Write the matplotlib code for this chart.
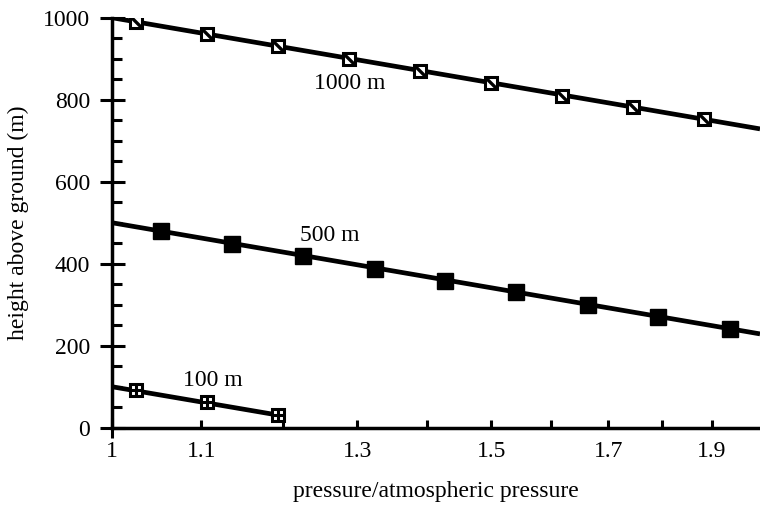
import numpy as np
import matplotlib
matplotlib.use('Agg')
import matplotlib.pyplot as plt
from matplotlib.path import Path
from matplotlib.ticker import FixedLocator, FixedFormatter

# measured points (pressure ratio, height in m)
p_1000 = [1.026, 1.107, 1.194, 1.288, 1.390, 1.500, 1.618, 1.746, 1.884]
h_1000 = [989, 960, 931, 900, 870, 840, 810, 782, 752]
p_500 = [1.054, 1.137, 1.227, 1.324, 1.428, 1.541, 1.663, 1.794, 1.936]
h_500 = [479, 449, 419, 388, 358, 330, 300, 270, 240]
p_100 = [1.026, 1.107, 1.194]
h_100 = [92, 63, 31]

# fitted lines (straight on the log axis)
fit_p = [1.0, 2.0]
fit_1000 = [1000, 729]
fit_500 = [500, 229]
fit_p100 = [1.0, 1.194]
fit_100 = [100, 31]

xticks = [1.1, 1.2, 1.3, 1.4, 1.5, 1.6, 1.7, 1.8, 1.9]
xticklabels = ['1.1', '', '1.3', '', '1.5', '', '1.7', '', '1.9']

plt.rcParams['font.family'] = ['Liberation Serif', 'DejaVu Serif']
fs = 17

fig = plt.figure(figsize=(7.6, 5.05), dpi=100)
ax = fig.add_axes([0.1478, 0.1529, 0.8522, 0.8119])

lw = 3.4
ax.plot(fit_p, fit_1000, color='black', lw=lw, solid_capstyle='butt', zorder=2)
ax.plot(fit_p, fit_500, color='black', lw=lw, solid_capstyle='butt', zorder=2)
ax.plot(fit_p100, fit_100, color='black', lw=lw, solid_capstyle='butt', zorder=2)

diag = Path([(-1, 1), (1, -1)], [Path.MOVETO, Path.LINETO])
ax.plot(p_1000, h_1000, ls='none', marker='s', ms=8, mfc='white', mec='black', mew=2.2, zorder=3)
ax.plot(p_1000, h_1000, ls='none', marker=diag, ms=8, mec='black', mew=2.4, zorder=4)
ax.plot(p_500, h_500, ls='none', marker='s', ms=11, mfc='black', mec='black', mew=1, zorder=3)
ax.plot(p_100, h_100, ls='none', marker='s', ms=8, mfc='white', mec='black', mew=2.2, zorder=3)
ax.plot(p_100, h_100, ls='none', marker='+', ms=8, mec='black', mew=2.2, zorder=4)

ax.text(1.289, 840, '1000 m', fontsize=fs, ha='center', va='center')
ax.text(1.262, 469, '500 m', fontsize=fs, ha='center', va='center')
ax.text(1.113, 116, '100 m', fontsize=fs, ha='center', va='center')

ax.set_xscale('log')
ax.set_xlim(1, 2)
ax.set_ylim(0, 1000)

ax.xaxis.set_major_locator(FixedLocator([1.0]))
ax.xaxis.set_major_formatter(FixedFormatter(['1']))
ax.xaxis.set_minor_locator(FixedLocator(xticks))
ax.xaxis.set_minor_formatter(FixedFormatter(xticklabels))
ax.set_yticks(np.arange(0, 1001, 200))
ax.set_yticks(np.arange(0, 1001, 50), minor=True)

ax.tick_params(axis='x', which='major', direction='inout', length=14, width=2.2, pad=2.5, labelsize=fs)
ax.tick_params(axis='x', which='minor', direction='in', length=6, width=2.2, pad=9.5, labelsize=fs)
ax.tick_params(axis='y', which='major', direction='inout', length=18, width=2.2, pad=7, labelsize=fs)
ax.tick_params(axis='y', which='minor', direction='in', length=7, width=2.2)

for s in ['top', 'right']:
    ax.spines[s].set_visible(False)
for s in ['left', 'bottom']:
    ax.spines[s].set_linewidth(2.5)

ax.set_xlabel('pressure/atmospheric pressure', fontsize=fs, labelpad=13.5)
ax.set_ylabel('height above ground (m)', fontsize=fs, labelpad=10)

fig.savefig('out.png', dpi=100)
